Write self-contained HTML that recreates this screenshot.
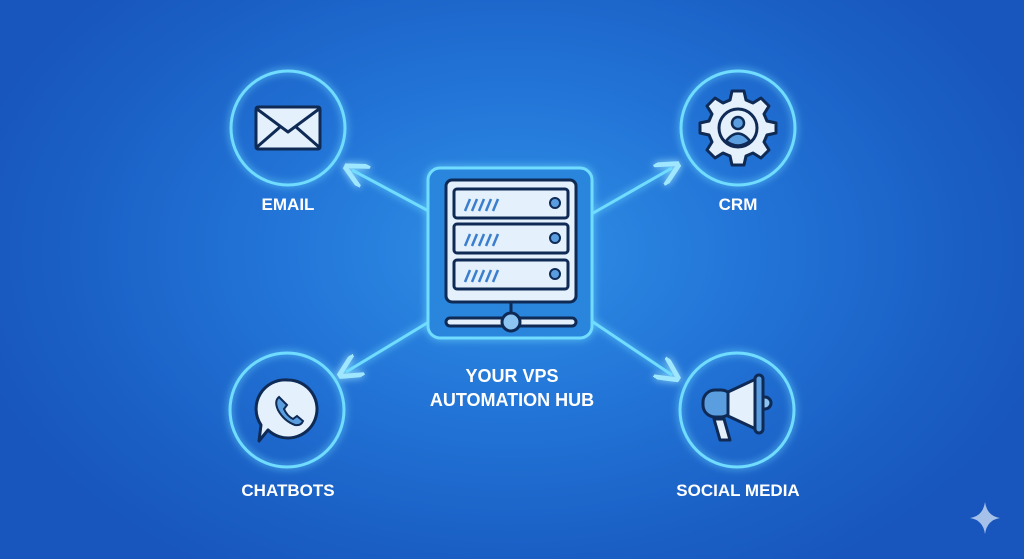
<!DOCTYPE html>
<html><head><meta charset="utf-8"><style>
html,body{margin:0;padding:0;width:1024px;height:559px;overflow:hidden}
body{background:radial-gradient(ellipse 560px 380px at 512px 250px,#2f90e6 0%,#2273d6 45%,#1a5fc4 80%,#1856bd 100%);font-family:"Liberation Sans",sans-serif}
svg{position:absolute;left:0;top:0}
</style></head><body>
<svg width="1024" height="559" viewBox="0 0 1024 559">
<defs>
<filter id="g" x="-50%" y="-50%" width="200%" height="200%"><feGaussianBlur stdDeviation="4" result="b"/><feMerge><feMergeNode in="b"/><feMergeNode in="SourceGraphic"/></feMerge></filter>
<marker id="a" markerWidth="8" markerHeight="8" refX="5" refY="4" orient="auto"><path d="M0,0 L8,4 L0,8" fill="none" stroke="#9fe6ff" stroke-width="1.6"/></marker>
</defs>
<g stroke="#6fdcff" stroke-width="3" fill="none" filter="url(#g)">
<line x1="438" y1="216" x2="352" y2="170" marker-end="url(#a)"/>
<line x1="588" y1="216" x2="672" y2="168" marker-end="url(#a)"/>
<line x1="432" y1="320" x2="346" y2="372" marker-end="url(#a)"/>
<line x1="590" y1="320" x2="672" y2="375" marker-end="url(#a)"/>
<circle cx="288" cy="128" r="57"/>
<circle cx="738" cy="128" r="57"/>
<circle cx="287" cy="410" r="57"/>
<circle cx="737" cy="410" r="57"/>
<rect x="428" y="168" width="164" height="170" rx="12" fill="#2a86dd"/>
</g>
<!-- server -->
<g stroke="#0e2a55" stroke-width="3" fill="#e4f0fb">
<rect x="446" y="180" width="130" height="122" rx="6"/>
<rect x="454" y="189" width="114" height="29" rx="3"/>
<rect x="454" y="224" width="114" height="29" rx="3"/>
<rect x="454" y="260" width="114" height="29" rx="3"/>
<line x1="511" y1="302" x2="511" y2="316"/>
<rect x="446" y="318" width="130" height="8" rx="4"/>
<circle cx="511" cy="322" r="9" fill="#8cc4f2"/>
</g>
<g fill="#5a9ee0" stroke="#0e2a55" stroke-width="2">
<circle cx="555" cy="203" r="5"/><circle cx="555" cy="238" r="5"/><circle cx="555" cy="274" r="5"/>
</g>
<g stroke="#3a7fce" stroke-width="2.5">
<path d="M465,211 l5,-12 M472,211 l5,-12 M479,211 l5,-12 M486,211 l5,-12 M493,211 l5,-12"/>
<path d="M465,246 l5,-12 M472,246 l5,-12 M479,246 l5,-12 M486,246 l5,-12 M493,246 l5,-12"/>
<path d="M465,282 l5,-12 M472,282 l5,-12 M479,282 l5,-12 M486,282 l5,-12 M493,282 l5,-12"/>
</g>
<!-- email -->
<g stroke="#0e2a55" stroke-width="3" fill="#e4f0fb" stroke-linejoin="round">
<rect x="256" y="107" width="64" height="42" rx="2"/>
<path d="M257,109 L288,132 L319,109" fill="none"/>
<path d="M257,147 L280,127 M319,147 L296,127" fill="none"/>
</g>
<!-- gear -->
<g transform="translate(738,128)">
<g fill="#e4f0fb" stroke="#0e2a55" stroke-width="3" stroke-linejoin="round">
<path d="M-6,-34 L6,-34 L8,-25 L15,-22 L23,-27 L31,-19 L26,-11 L29,-4 L38,-2 L38,8 L29,10 L26,17 L31,25 L23,33 L15,28 L8,31 L6,40 L-6,40 L-8,31 L-15,28 L-23,33 L-31,25 L-26,17 L-29,10 L-38,8 L-38,-2 L-29,-4 L-26,-11 L-31,-19 L-23,-27 L-15,-22 L-8,-25 Z" transform="translate(0,-3)"/>
<circle cx="0" cy="0" r="19"/>
</g>
<circle cx="0" cy="-5" r="6" fill="#5a9ee0" stroke="#0e2a55" stroke-width="2.5"/>
<path d="M-12,13 Q0,-2 12,13 Q0,22 -12,13Z" fill="#5a9ee0" stroke="#0e2a55" stroke-width="2.5"/>
</g>
<!-- chat -->
<g stroke="#0e2a55" stroke-width="3" fill="#e4f0fb" stroke-linejoin="round">
<path d="M288,380 a29,29 0 1,1 -20,50 l-9,11 l2,-16 a29,29 0 0,1 27,-45z"/>
</g>
<path d="M279,397 q-5,4 -1,13 q6,11 17,15 q6,1 8,-4 l-6,-5 l-4,3 q-6,-3 -9,-10 l3,-4 z" fill="#5a9ee0" stroke="#0e2a55" stroke-width="2"/>
<!-- megaphone -->
<g stroke="#0e2a55" stroke-width="3" fill="#e4f0fb" stroke-linejoin="round">
<circle cx="765" cy="403" r="6" fill="#8cc4f2"/>
<path d="M714,419 L724,419 L730,440 L720,440 Z"/>
<rect x="703" y="390" width="30" height="27" rx="12" fill="#5a9ee0"/>
<path d="M728,392 L758,378 L758,430 L728,416 Z"/>
<rect x="755" y="375" width="8" height="58" rx="4" fill="#5a9ee0"/>
</g>
<g fill="#fff" font-weight="bold" font-size="17" text-anchor="middle">
<text x="288" y="210">EMAIL</text>
<text x="738" y="210">CRM</text>
<text x="288" y="496">CHATBOTS</text>
<text x="738" y="496">SOCIAL MEDIA</text>
<text x="512" y="382" font-size="18">YOUR VPS</text>
<text x="512" y="406" font-size="18">AUTOMATION HUB</text>
</g>
<path d="M985,502 Q987,516 1000,518 Q987,520 985,534 Q983,520 970,518 Q983,516 985,502Z" fill="#c9dcf5" opacity="0.8"/>
</svg>
</body></html>
